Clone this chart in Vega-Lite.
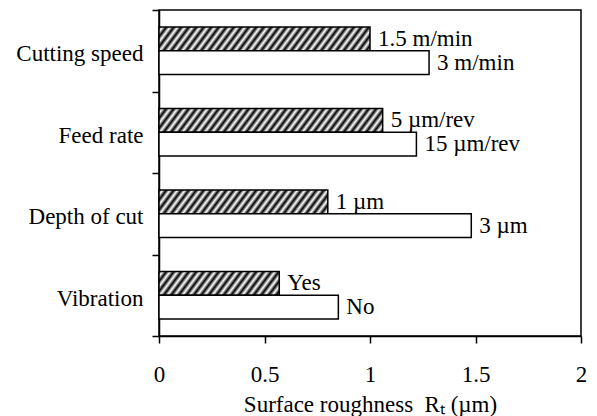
{
  "$schema": "https://vega.github.io/schema/vega-lite/v6.json",
  "autosize": {"type": "none"},
  "padding": {"left": 159, "top": 10, "right": 16, "bottom": 80},
  "width": 422,
  "height": 326,
  "background": "white",
  "config": {
    "font": "Liberation Serif",
    "view": {"stroke": "black", "strokeWidth": 1.5},
    "axis": {
      "domainColor": "black", "domainWidth": 1.5,
      "tickColor": "black", "tickWidth": 1.5,
      "labelColor": "black", "labelFont": "Liberation Serif", "labelFontSize": 23,
      "titleColor": "black", "titleFont": "Liberation Serif", "titleFontSize": 23, "titleFontWeight": "normal",
      "grid": false
    }
  },
  "data": {"values": [
    {"factor": "Cutting speed", "level": "a", "value": 1.0, "label": "1.5 m/min"},
    {"factor": "Cutting speed", "level": "b", "value": 1.28, "label": "3 m/min"},
    {"factor": "Feed rate", "level": "a", "value": 1.06, "label": "5 µm/rev"},
    {"factor": "Feed rate", "level": "b", "value": 1.22, "label": "15 µm/rev"},
    {"factor": "Depth of cut", "level": "a", "value": 0.80, "label": "1 µm"},
    {"factor": "Depth of cut", "level": "b", "value": 1.48, "label": "3 µm"},
    {"factor": "Vibration", "level": "a", "value": 0.57, "label": "Yes"},
    {"factor": "Vibration", "level": "b", "value": 0.85, "label": "No"}
  ]},
  "encoding": {
    "y": {
      "field": "factor", "type": "nominal",
      "sort": ["Cutting speed", "Feed rate", "Depth of cut", "Vibration"],
      "scale": {"paddingInner": 0, "paddingOuter": 0},
      "axis": {
        "title": null, "tickBand": "extent", "tickSize": 7, "labelPadding": 9,
        "labelOffset": 3,
        "labelExpr": "datum.label === 'Feed rate' ? 'Feed rate\u00a0' : datum.label"
      }
    },
    "yOffset": {
      "field": "level", "type": "nominal", "sort": ["a", "b"],
      "scale": {"paddingInner": 0, "paddingOuter": 0.71}
    },
    "x": {
      "field": "value", "type": "quantitative",
      "scale": {"domain": [0, 2], "nice": false},
      "axis": {
        "title": "Surface roughness\u00a0 Rₜ (µm)",
        "values": [0, 0.5, 1, 1.5, 2], "format": "~g",
        "tickSize": 7, "labelPadding": 20, "labelFlush": false,
        "titleY": 75, "titleBaseline": "alphabetic"
      }
    }
  },
  "layer": [
    {
      "mark": {"type": "bar", "stroke": "black", "strokeWidth": 1.5},
      "encoding": {
        "fill": {
          "condition": [
            {"test": "datum.factor === 'Cutting speed' && datum.level === 'a'",
             "value": {"gradient": "linear", "x1": 0, "y1": 0, "x2": 1.41168, "y2": 0.11956, "stops": [
              {"offset": 0, "color": "black"}, {"offset": 0.0125, "color": "white"}, {"offset": 0.025, "color": "black"}, {"offset": 0.0375, "color": "white"},
              {"offset": 0.05, "color": "black"}, {"offset": 0.0625, "color": "white"}, {"offset": 0.075, "color": "black"}, {"offset": 0.0875, "color": "white"},
              {"offset": 0.1, "color": "black"}, {"offset": 0.1125, "color": "white"}, {"offset": 0.125, "color": "black"}, {"offset": 0.1375, "color": "white"},
              {"offset": 0.15, "color": "black"}, {"offset": 0.1625, "color": "white"}, {"offset": 0.175, "color": "black"}, {"offset": 0.1875, "color": "white"},
              {"offset": 0.2, "color": "black"}, {"offset": 0.2125, "color": "white"}, {"offset": 0.225, "color": "black"}, {"offset": 0.2375, "color": "white"},
              {"offset": 0.25, "color": "black"}, {"offset": 0.2625, "color": "white"}, {"offset": 0.275, "color": "black"}, {"offset": 0.2875, "color": "white"},
              {"offset": 0.3, "color": "black"}, {"offset": 0.3125, "color": "white"}, {"offset": 0.325, "color": "black"}, {"offset": 0.3375, "color": "white"},
              {"offset": 0.35, "color": "black"}, {"offset": 0.3625, "color": "white"}, {"offset": 0.375, "color": "black"}, {"offset": 0.3875, "color": "white"},
              {"offset": 0.4, "color": "black"}, {"offset": 0.4125, "color": "white"}, {"offset": 0.425, "color": "black"}, {"offset": 0.4375, "color": "white"},
              {"offset": 0.45, "color": "black"}, {"offset": 0.4625, "color": "white"}, {"offset": 0.475, "color": "black"}, {"offset": 0.4875, "color": "white"},
              {"offset": 0.5, "color": "black"}, {"offset": 0.5125, "color": "white"}, {"offset": 0.525, "color": "black"}, {"offset": 0.5375, "color": "white"},
              {"offset": 0.55, "color": "black"}, {"offset": 0.5625, "color": "white"}, {"offset": 0.575, "color": "black"}, {"offset": 0.5875, "color": "white"},
              {"offset": 0.6, "color": "black"}, {"offset": 0.6125, "color": "white"}, {"offset": 0.625, "color": "black"}, {"offset": 0.6375, "color": "white"},
              {"offset": 0.65, "color": "black"}, {"offset": 0.6625, "color": "white"}, {"offset": 0.675, "color": "black"}, {"offset": 0.6875, "color": "white"},
              {"offset": 0.7, "color": "black"}, {"offset": 0.7125, "color": "white"}, {"offset": 0.725, "color": "black"}, {"offset": 0.7375, "color": "white"},
              {"offset": 0.75, "color": "black"}, {"offset": 0.7625, "color": "white"}, {"offset": 0.775, "color": "black"}
             ]}},
            {"test": "datum.factor === 'Feed rate' && datum.level === 'a'",
             "value": {"gradient": "linear", "x1": 0, "y1": 0, "x2": 1.33281, "y2": 0.10649, "stops": [
              {"offset": 0, "color": "black"}, {"offset": 0.0125, "color": "white"}, {"offset": 0.025, "color": "black"}, {"offset": 0.0375, "color": "white"},
              {"offset": 0.05, "color": "black"}, {"offset": 0.0625, "color": "white"}, {"offset": 0.075, "color": "black"}, {"offset": 0.0875, "color": "white"},
              {"offset": 0.1, "color": "black"}, {"offset": 0.1125, "color": "white"}, {"offset": 0.125, "color": "black"}, {"offset": 0.1375, "color": "white"},
              {"offset": 0.15, "color": "black"}, {"offset": 0.1625, "color": "white"}, {"offset": 0.175, "color": "black"}, {"offset": 0.1875, "color": "white"},
              {"offset": 0.2, "color": "black"}, {"offset": 0.2125, "color": "white"}, {"offset": 0.225, "color": "black"}, {"offset": 0.2375, "color": "white"},
              {"offset": 0.25, "color": "black"}, {"offset": 0.2625, "color": "white"}, {"offset": 0.275, "color": "black"}, {"offset": 0.2875, "color": "white"},
              {"offset": 0.3, "color": "black"}, {"offset": 0.3125, "color": "white"}, {"offset": 0.325, "color": "black"}, {"offset": 0.3375, "color": "white"},
              {"offset": 0.35, "color": "black"}, {"offset": 0.3625, "color": "white"}, {"offset": 0.375, "color": "black"}, {"offset": 0.3875, "color": "white"},
              {"offset": 0.4, "color": "black"}, {"offset": 0.4125, "color": "white"}, {"offset": 0.425, "color": "black"}, {"offset": 0.4375, "color": "white"},
              {"offset": 0.45, "color": "black"}, {"offset": 0.4625, "color": "white"}, {"offset": 0.475, "color": "black"}, {"offset": 0.4875, "color": "white"},
              {"offset": 0.5, "color": "black"}, {"offset": 0.5125, "color": "white"}, {"offset": 0.525, "color": "black"}, {"offset": 0.5375, "color": "white"},
              {"offset": 0.55, "color": "black"}, {"offset": 0.5625, "color": "white"}, {"offset": 0.575, "color": "black"}, {"offset": 0.5875, "color": "white"},
              {"offset": 0.6, "color": "black"}, {"offset": 0.6125, "color": "white"}, {"offset": 0.625, "color": "black"}, {"offset": 0.6375, "color": "white"},
              {"offset": 0.65, "color": "black"}, {"offset": 0.6625, "color": "white"}, {"offset": 0.675, "color": "black"}, {"offset": 0.6875, "color": "white"},
              {"offset": 0.7, "color": "black"}, {"offset": 0.7125, "color": "white"}, {"offset": 0.725, "color": "black"}, {"offset": 0.7375, "color": "white"},
              {"offset": 0.75, "color": "black"}, {"offset": 0.7625, "color": "white"}, {"offset": 0.775, "color": "black"}, {"offset": 0.7875, "color": "white"},
              {"offset": 0.8, "color": "black"}, {"offset": 0.8125, "color": "white"}, {"offset": 0.825, "color": "black"}
             ]}},
            {"test": "datum.factor === 'Depth of cut' && datum.level === 'a'",
             "value": {"gradient": "linear", "x1": 0, "y1": 0, "x2": 1.75756, "y2": 0.18606, "stops": [
              {"offset": 0, "color": "black"}, {"offset": 0.0125, "color": "white"}, {"offset": 0.025, "color": "black"}, {"offset": 0.0375, "color": "white"},
              {"offset": 0.05, "color": "black"}, {"offset": 0.0625, "color": "white"}, {"offset": 0.075, "color": "black"}, {"offset": 0.0875, "color": "white"},
              {"offset": 0.1, "color": "black"}, {"offset": 0.1125, "color": "white"}, {"offset": 0.125, "color": "black"}, {"offset": 0.1375, "color": "white"},
              {"offset": 0.15, "color": "black"}, {"offset": 0.1625, "color": "white"}, {"offset": 0.175, "color": "black"}, {"offset": 0.1875, "color": "white"},
              {"offset": 0.2, "color": "black"}, {"offset": 0.2125, "color": "white"}, {"offset": 0.225, "color": "black"}, {"offset": 0.2375, "color": "white"},
              {"offset": 0.25, "color": "black"}, {"offset": 0.2625, "color": "white"}, {"offset": 0.275, "color": "black"}, {"offset": 0.2875, "color": "white"},
              {"offset": 0.3, "color": "black"}, {"offset": 0.3125, "color": "white"}, {"offset": 0.325, "color": "black"}, {"offset": 0.3375, "color": "white"},
              {"offset": 0.35, "color": "black"}, {"offset": 0.3625, "color": "white"}, {"offset": 0.375, "color": "black"}, {"offset": 0.3875, "color": "white"},
              {"offset": 0.4, "color": "black"}, {"offset": 0.4125, "color": "white"}, {"offset": 0.425, "color": "black"}, {"offset": 0.4375, "color": "white"},
              {"offset": 0.45, "color": "black"}, {"offset": 0.4625, "color": "white"}, {"offset": 0.475, "color": "black"}, {"offset": 0.4875, "color": "white"},
              {"offset": 0.5, "color": "black"}, {"offset": 0.5125, "color": "white"}, {"offset": 0.525, "color": "black"}, {"offset": 0.5375, "color": "white"},
              {"offset": 0.55, "color": "black"}, {"offset": 0.5625, "color": "white"}, {"offset": 0.575, "color": "black"}, {"offset": 0.5875, "color": "white"},
              {"offset": 0.6, "color": "black"}, {"offset": 0.6125, "color": "white"}, {"offset": 0.625, "color": "black"}, {"offset": 0.6375, "color": "white"}
             ]}},
            {"test": "datum.factor === 'Vibration' && datum.level === 'a'",
             "value": {"gradient": "linear", "x1": 0, "y1": 0, "x2": 2.4405, "y2": 0.36261, "stops": [
              {"offset": 0, "color": "black"}, {"offset": 0.0125, "color": "white"}, {"offset": 0.025, "color": "black"}, {"offset": 0.0375, "color": "white"},
              {"offset": 0.05, "color": "black"}, {"offset": 0.0625, "color": "white"}, {"offset": 0.075, "color": "black"}, {"offset": 0.0875, "color": "white"},
              {"offset": 0.1, "color": "black"}, {"offset": 0.1125, "color": "white"}, {"offset": 0.125, "color": "black"}, {"offset": 0.1375, "color": "white"},
              {"offset": 0.15, "color": "black"}, {"offset": 0.1625, "color": "white"}, {"offset": 0.175, "color": "black"}, {"offset": 0.1875, "color": "white"},
              {"offset": 0.2, "color": "black"}, {"offset": 0.2125, "color": "white"}, {"offset": 0.225, "color": "black"}, {"offset": 0.2375, "color": "white"},
              {"offset": 0.25, "color": "black"}, {"offset": 0.2625, "color": "white"}, {"offset": 0.275, "color": "black"}, {"offset": 0.2875, "color": "white"},
              {"offset": 0.3, "color": "black"}, {"offset": 0.3125, "color": "white"}, {"offset": 0.325, "color": "black"}, {"offset": 0.3375, "color": "white"},
              {"offset": 0.35, "color": "black"}, {"offset": 0.3625, "color": "white"}, {"offset": 0.375, "color": "black"}, {"offset": 0.3875, "color": "white"},
              {"offset": 0.4, "color": "black"}, {"offset": 0.4125, "color": "white"}, {"offset": 0.425, "color": "black"}, {"offset": 0.4375, "color": "white"},
              {"offset": 0.45, "color": "black"}, {"offset": 0.4625, "color": "white"}, {"offset": 0.475, "color": "black"}
             ]}}
          ],
          "value": "white"
        }
      }
    },
    {
      "mark": {"type": "text", "align": "left", "baseline": "middle", "dx": 8, "fontSize": 23, "font": "Liberation Serif", "color": "black"},
      "encoding": {"text": {"field": "label"}}
    }
  ]
}
